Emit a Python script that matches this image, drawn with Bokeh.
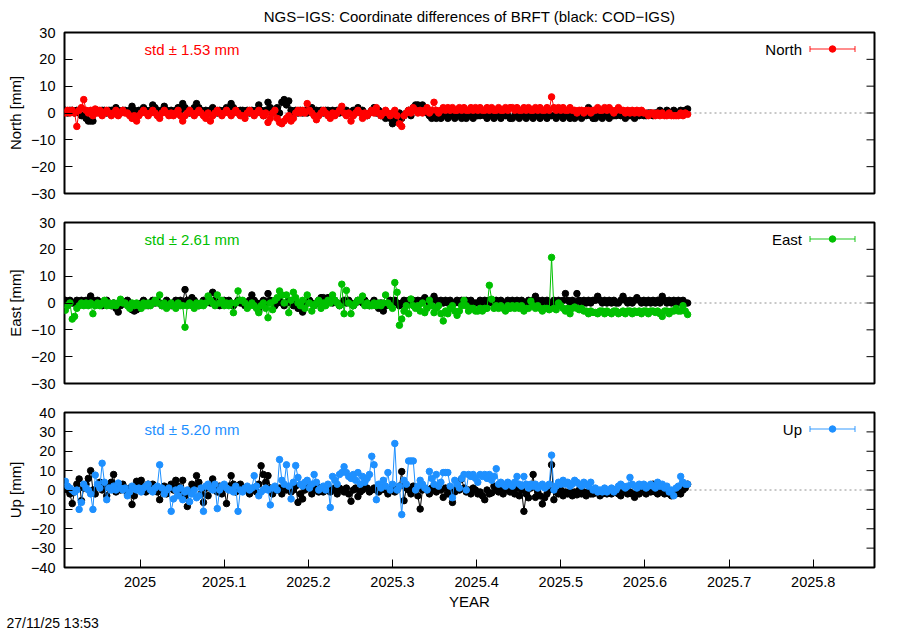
import pandas as pd
from bokeh.plotting import figure
from bokeh.layouts import column
from bokeh.models import Range1d, FixedTicker, Label, Span, Title
from bokeh.embed import file_html
from bokeh.resources import INLINE

# ---------------- data ----------------
START_DATE = "2024-11-29"   # first daily solution

north_cod = [
    1, 0, 1, 1, 0, 1, 0, -1, -1, -2,
    -3, -3, -3, 0, 1, 0, 1, 1, 0, 1,
    1, 0, 2, 1, 0, 1, 1, 0, 1, 2.5, 1,
    0, 1, 1, 2, 1, 0, 1, 3, 2, 1,
    0, 1, 2.5, 1, 0, 1, 0, 1, 2, 1,
    3.5, 2, 1, 0, 1, 2, 3.5, 2, 1, 0,
    1, 0, 1, 2, 1, 0, 1, 0, 1, 2,
    1, 3.5, 2, 1, 0, 1, 1, 0, 1, 0, 1,
    0, 1, 3, 1, -1, 1, 4, 2, 0, 1,
    2, 0, 4, 5, 3, 4.5, 1, 0, 1, 0,
    1, 0, 1, 0, 1, 2, 0, 1, 0, 1,
    0, 1, 1, 0, 1, 0, 1, 0, 1.5, 0,
    1, 0, 0, 1, 0, 2, 1, 1, 0, -1, 0,
    1, 2, 0, 1, -1, 0, -2, -1, -2, -4,
    -3, -1, 0, -2, -1, 0, 1, -1, 2, 3,
    3, 2, 3, 1, 0, -1, -2, -1, -2, -1,
    -2, -1, -1, -2, -1, -1, -2, -1, -1, -2,
    -1, -2, -1, -1, -2, -1, -1, -1, 0, -1, -2,
    -1, -1, -2, -1, -1, -2, -1, -1, -1, -2,
    -2, -1, -1, -2, -1, -1, -2, -1, -1, -2,
    -1, -1, -2, -1, -1, -2, -1, -1, -1, -2,
    -1, -1, -2, -1, -1, -2, -1, -2, -1, -1,
    -2, -1, -1, 2, -1, -2, -2, -1, -1, -2, -1,
    -1, -2, -1, -1, -1, 0, -1, -1, -2, -1,
    -1, -1, -2, -1, -1, 0, -1, -1, 0, 0,
    -1, 0, 0, 1, 0, 0, 1, 0, 0, 1,
    0, 0, 1, 0, 1, 1.5,
]
north_ngs = [
    0, 1, 0, 1, 0, -5, 1, 2, 5, 1,
    0, 1, -1, 1.5, 0, 1, -1, 0, 1, 0,
    -1, 0, 1, -1, 0, 1, 0, 0, -1, -2, -1,
    -3, -1, 0, 1, 0, -1, 0, 1, 0, -1,
    -2, 0, 1, 0, -1, 0, -1, 0, 1, -1,
    -3, -1, 0, 1, 0, -1, 0, 1, 0, -1,
    -2, 0, -3, -1, 0, 1, 0, -1, 0, 1,
    0, -1, 0, 1, 0, -1, -1, -2, 0, 1, 0,
    -1, 0, 1, 0, -1, 0, -3.5, -2, 0, 1,
    -2, -3.5, -4, -3, -2, -1, -3, -2, 0, 1,
    0, 1, 0, 3.5, 1, 0, -1, -2.5, -1, 0,
    1, 0, -1, -2, 0, -1, 0, 1, 2.5, 0,
    -1, 0, -3, -1, 0, 1, 0, -2, 0, -1, 0,
    1, 0, 2, 0, -1, 0, 1, 0, -1, 0,
    1, -1, -4, -5, -1, 0, 1, 0, 2, 1,
    0, 1, 0, 1, 2, 0, 1, 4, 1, 0,
    1, 2, 1, 2, 1, 2, 1, 1, 2, 1,
    2, 1, 1, 2, 1, 2, 1, 2, 1, 1, 2,
    1, 2, 1, 1, 2, 1, 1, 2, 1, 2,
    2, 1, 2, 1, 1, 2, 1, 2, 1, 1,
    2, 1, 2, 1, 1, 2, 1, 6, 2, 1,
    2, 1, 2, 1, 1, 2, 1, 1, 0, 1,
    1, 0, 1, 1, 0, 1, 1, 2, 1, 1, 2,
    1, 2, 1, 0, 1, 2, 1, 1, 0, 1,
    0, 1, 0, 1, 0, 1, 0, 0, -1, 0,
    0, -1, 0, -1, 0, -1, -1, 0, -1, -1,
    -1, -1, 0, -1, 0, -0.5,
]
east_cod = [
    1, 0, 1, 0, 0, 1, 0, 1, 0, 1,
    0, 2.6, 1, 0, 1, 0, -1, 0, 1, 0,
    -1, 0, -2, -3.4, -1, 0, 0, 1, 0, -2.5, -3,
    -2.5, -2, 0, 1, 0, -1, 0, 1, 0, 1,
    0, -1, 0, 1, 0, -1, 0, 1, 0, 1,
    0, 5, 1, 0, 2, 1, 0, -1, 0, 1,
    0, 1, 0, 4, 1, 0, -1, 0, 1, 0,
    1, 0, -1, 0, 1, 0, 0, -1, 0, 1, 3,
    1, 0, -3, 0, 1, 0, 3.5, 1, 0, -1,
    0, 1, 0, -1, 0, 1, 0, -1, 0, -2,
    -1, -3.4, -1, 0, 1, 0, -1, 0, 1, 2,
    2, 1.5, 2, 1, 0, 1, 0, -1, 0, 1,
    0, 1, 0, -1, 0, 1, 1, 0, 1, 0, -1,
    0, 1, -1, -2, 0, -3, -1, 0, 1, 0,
    1, 0, -1, 0, 1, 0, 1, 0, 1, 0,
    1, 0, 1, 2, 1, 0, 1, 2.5, 1, 0,
    1, 0, 1, 0, 1, 0, 0, 1, 0, 1,
    0, 1, 0, 1, 0, 0, 0, 1, 0, 1, 0,
    1, 0, 0, 1, 0, 1, 0, 0, 1, 0,
    1, 0, 1, 0, 1, 0, 0, 1, 0, 1,
    2.5, 1, 0, 1, 0, 1, 0, 0, 1, 0,
    1, 0, 1, 3.5, 1, 0, 1, 0, 3.5, 1,
    0, 1, 0, 1, 0, 1, 1, 2.5, 1, 0, 1,
    0, 1, 0, 1, 0, 0, 1, 2.5, 1, 0,
    1, 0, 1, 2, 1, 0, 1, 0, 1, 0,
    1, 0, 1, 0, 2.5, 1, 0, 1, 0, 1,
    0, 1, 0, 1, 0, 0,
]
east_ngs = [
    -2.7, -1, 0, -6, -5, -2, -1, 0, -1, 0,
    -1, 0, -4, -1, 0, -1, 0, 1, -1, 0,
    -1, 0, -1, 0, 1.4, 0, 0, -1, -2, 0, -1,
    0, -1, -2, 0, -1, 0, -1, 0, 1, 0,
    3, -1, 0, -2, -1, 0, -1, -2, 0, -1,
    -1, -9, -1, 0, -1, -2, 0, -1, 0, -1,
    0, 2.6, 1, 0, -1, 3, 0, 1, -1, 0,
    -1, 0, -3.6, 0, 4.5, 1, 1, 0, -2, -1, 0,
    -1, -2, -3.6, -1, 0, -2, -5.5, 0, -2.5, 1,
    2, 4.5, 3, 0, 3, -3.6, 1, 4, 2, 0,
    -1, 1, -2, 3, 0, -3, -1, 0, 1, -2,
    0, -1, 1, 0, 3, 1, 0, -1, 7, -4,
    4.7, 0, -4, -1, 0, 1, 1, 2.6, -1, 0, -1,
    -1, 0, -1, 0, -1, 0, 3, 0, -1, -2,
    7.6, 4, -8.3, -6, -3, -1, -4, 1.5, -1, -2,
    -1, -3, 0, -3.6, -2, 1, -1, -3.6, -2, -1,
    -4, -6.7, -3, -4, -2, -1, -3, -4.6, -3, -1,
    1, -1, -3, -2, -2, -3, -3, -2, -3, -2, -2,
    6.6, 1.4, -2, -1, -2, -1, -2, -3, -1, -2,
    -1, -2, -1, -2, -1, -3, -2, -2, 0.7, -1,
    -2, -1, -2, -3, -2, -2, -2.5, 17, -2, -2.5,
    0, -1, -2, -3, -2, -4, -2, -1.5, -2, -2.5,
    -2, -3, -3, -4, -3, -3.5, -3.5, -4, -3, -3, -4,
    -3, -3.5, -4, -3, -3, -4, -3.5, -3, -4, -3,
    -3, -4, -3, -3.5, -3, -4, -3, -3, -4, -3,
    -3, -3.5, -3, -4, -5, -3, -3, -4, -3, -3,
    -2, -3, -3, -1, -3, -4.3,
]
up_cod = [
    2, 0, -2, -7, -1, 3, 5.7, -5.5, 1, 3,
    6, 10, 0, -2, 2, 4, 0, 1, -3, 2,
    4, 8, -1, 2, 0, 3, 1, -2, 1, -7.5, -3,
    4.5, 4, 5, 2, -1, 3, 0, 3, 1, -1,
    -5, 0, 2, -2, 1, 3, 0, 5, 2, -1,
    5, -3, -8.5, 0, 3, 2, 7.4, 4, -2, -6.4,
    1, -3, 2, 5.7, 0, -1, 2, -2, 1, -7,
    2, 7.4, 3, -1, 2, 3, 1, 0, 1, -2, 0,
    1, -1, 3, 12.5, 8, 4, 7.4, 1, -2, 0,
    0, 1, -2, 2, 0, 1, -1, 0, 2, -6.4,
    -2, -4.6, 0, 1, 1.5, -2, 0, 2, -1, 1,
    -1, 0, 2, -1, 0, 1, -2, 1, 0, -1,
    1, -2, -5.8, 0, 1, -3.4, -1, 0, 2, 1, -1,
    0, 1, 0, -1, 0, 1, 0, -2, 0, 1,
    -1, 0, 2, 9.5, -5.5, 1, 0, -2, 2, 0,
    -3, -9.8, 0, 1, 0, -2, 1, 0, -1, 2,
    0, -3.8, 1, -2, 0, -6.4, -1, 1, 0, 5.7,
    1, -1, 0, -2, 1, 0, -2, -1, -3, -5, 0,
    -2, -1.5, 2, 0, -1, 1, -2, 0, 1, -1,
    0, -2, 1, -3, 0, -11, -2, -4, 1, 8,
    -3.8, -1, -3, -7.2, -4, -2, 0, 13, -5, -1,
    -2, 0, -3, -1, -2, -1, -3, -1, -2.5, 0,
    -2, -1, -3, -1, -2, -2, -1, -1, -3, -2, -1,
    -2, -1, -2, 0, -1, -2, -3, -1, 0, -2,
    -1, -2, -3.8, -1, -2, 0, -1, -2, 1, -1,
    3, -1, -2, 0, -1, -2, -1, -2, -3, -1,
    -2, -1, -2, 0, 1, 3,
]
up_ngs = [
    4.5, 2, 1, 0, -1, 0, -10, -6.4, 3, 1,
    0, -2, -10, 7.7, 3, 1, 13.8, 4, -5, 1,
    0, 2, 0, 3.6, 1, 0, 1, -3, -1, 2, 1,
    0, 1, -1, 1, 2, 3, 0, -1, 1, 2,
    13, 1, -2, 0, 1, -11, -4.6, 0, -3, 1,
    -5, -1, 0, -6, -2, 0, -4, -3, 1, -11,
    2, 3, 1, 0, 3, -9.6, 0, 2, 3, 1,
    0, 0, -1, 2, -11, 0, -1, 1, 2, 0, 1,
    7.4, 2, -3, -1, 0, 1, 0, -7.7, 1, 2,
    0, 15.7, 5, 3, 13, 2, -4.6, 4, 12.6, 6.5,
    3, 2, 4, 5, 1, 3, 8, 4, 0, 1,
    2, 0, 3, -9, 7, 5, 3, 8, 9, 12,
    9, 7, 6, 8, 5, 9, 3, 7, 4, 6, 8,
    17.4, 13, -5, 3, 1, 5, 2, 9, 0, 3,
    24, 0, 2, -12.7, 5, 3, 15, 15, 15, 0,
    2, 5, 3, 1, 0, 9.6, 6, 3, 8, 2,
    4, 9, 9, 9, 2, -4, 5, 3, 1, 6,
    8, 0, 8, 7, 8, 6, 4, 8, 7, 8, 6,
    8, 5, 7, 11, 3, 4, 3, 2, 4, 3,
    2, 4, 7, 3, 2, 7, 3, 1, 3, 2,
    3, 1, 2, 3, 1, 2, 3, 18, 0, 2,
    4, 3, 5, 3, 4, 2, 3, 5, 4, 3,
    2, 4, 3, 2, 4, 0, 1, -1, 0, -1, 1,
    -1, 0, 1, -1, 0, 2, 3, 2, 1, 2,
    6.5, 3, 2, 1, 3, 2, 3, 1, 2, 3,
    2, 1, 4, 2, 3, 1, 2, -1, 0, -3,
    1, 2, 7, 4, 3, 3,
]

components = ["North", "East", "Up"]
std_values = ["1.53", "2.61", "5.20"]
colors = ["#ff0000", "#00c000", "#1e90ff"]
y_limits = [(-30, 30), (-30, 30), (-40, 40)]
y_ticks = [[-30, -20, -10, 0, 10, 20, 30],
           [-30, -20, -10, 0, 10, 20, 30],
           [-40, -30, -20, -10, 0, 10, 20, 30, 40]]
x_ticks = [2025.0, 2025.1, 2025.2, 2025.3, 2025.4, 2025.5, 2025.6, 2025.7, 2025.8]
x_tick_labels = ["2025", "2025.1", "2025.2", "2025.3", "2025.4", "2025.5",
                 "2025.6", "2025.7", "2025.8"]
X_RANGE = (2024.9102, 2025.8728)

TITLE = "NGS\u2212IGS: Coordinate differences of BRFT (black: COD\u2212IGS)"
STAMP = "27/11/25 13:53"

# ---------------- time axis ----------------
dates = pd.date_range(START_DATE, periods=len(north_cod), freq="D")
ndays = [366 if d.is_leap_year else 365 for d in dates]
t = [d.year + (d.dayofyear - 0.5) / n for d, n in zip(dates, ndays)]

FONT = "Liberation Sans"
W = 892
FRAME_W = 810

# (height, top border, frame height, bottom border)
geom = [(208, 32, 161, 15), (190, 14, 161, 15), (232, 14, 155, 63)]
series = [(north_cod, north_ngs), (east_cod, east_ngs), (up_cod, up_ngs)]


def minus(v):
    return ("%g" % v).replace("-", "\u2212")


figs = []
for i, comp in enumerate(components):
    h, bt, fh, bb = geom[i]
    ylo, yhi = y_limits[i]
    p = figure(width=W, height=h, x_range=Range1d(*X_RANGE), y_range=Range1d(ylo, yhi),
               output_backend="svg", toolbar_location=None,
               min_border_left=64, min_border_right=18,
               min_border_top=bt, min_border_bottom=bb)
    p.outline_line_color = "black"
    p.outline_line_width = 2
    p.outline_line_alpha = 1.0
    p.grid.visible = False
    p.background_fill_color = "white"
    p.border_fill_color = "white"

    upp = (yhi - ylo) / fh            # data units per pixel (y)
    upx = (X_RANGE[1] - X_RANGE[0]) / FRAME_W   # data units per pixel (x)

    yax = p.yaxis[0]
    yax.ticker = FixedTicker(ticks=y_ticks[i])
    yax.major_label_overrides = {v: minus(v) for v in y_ticks[i]}
    yax.major_tick_in = 8
    yax.major_tick_out = 0
    yax.minor_tick_in = 0
    yax.minor_tick_out = 0
    yax.axis_line_color = None
    yax.major_tick_line_color = "black"
    yax.major_label_text_font = FONT
    yax.major_label_text_font_size = "14.5px"
    yax.major_label_text_color = "black"
    yax.major_label_standoff = 9
    yax.axis_label = comp + " [mm]"
    yax.axis_label_text_font = FONT
    yax.axis_label_text_font_size = "15px"
    yax.axis_label_text_font_style = "normal"
    yax.axis_label_text_color = "black"
    yax.axis_label_standoff = 4

    # mirrored tick marks on the right frame edge
    p.segment(x0=[X_RANGE[1] - 8 * upx] * len(y_ticks[i]), y0=y_ticks[i],
              x1=[X_RANGE[1]] * len(y_ticks[i]), y1=y_ticks[i],
              line_color="black", line_width=1)

    xax = p.xaxis[0]
    if i < 2:
        xax.visible = False
    else:
        xax.ticker = FixedTicker(ticks=x_ticks)
        xax.major_label_overrides = dict(zip(x_ticks, x_tick_labels))
        xax.major_tick_in = 8
        xax.major_tick_out = 0
        xax.minor_tick_in = 0
        xax.minor_tick_out = 0
        xax.axis_line_color = None
        xax.major_tick_line_color = "black"
        xax.major_label_text_font = FONT
        xax.major_label_text_font_size = "14.5px"
        xax.major_label_text_color = "black"
        xax.major_label_standoff = 9
        xax.axis_label = "YEAR"
        xax.axis_label_text_font = FONT
        xax.axis_label_text_font_size = "15px"
        xax.axis_label_text_font_style = "normal"
        xax.axis_label_text_color = "black"
        xax.axis_label_standoff = 3

    # zero line
    p.add_layout(Span(location=0, dimension="width", line_color="#909090",
                      line_width=1, line_dash="2 3", level="underlay"))

    cod, ngs = series[i]
    col = colors[i]
    p.line(t, cod, line_color="black", line_width=1)
    p.scatter(t, cod, marker="circle", size=6.5, fill_color="black", line_color="black")
    p.line(t, ngs, line_color=col, line_width=1)
    p.scatter(t, ngs, marker="circle", size=6.5, fill_color=col, line_color=col)

    y_key = yhi - 16.5 * upp

    p.add_layout(Label(x=X_RANGE[0] + 80 * upx, y=y_key,
                       text="std \u00b1 " + std_values[i] + " mm",
                       text_color=col, text_font=FONT, text_font_size="15px",
                       text_baseline="middle", text_align="left"))

    # key: text then error-bar style sample
    kx0 = X_RANGE[0] + 745.5 * upx
    kx1 = X_RANGE[0] + 790.5 * upx
    kxm = (kx0 + kx1) / 2
    cap = 3 * upp
    p.add_layout(Label(x=X_RANGE[0] + 737.5 * upx, y=y_key, text=comp,
                       text_color="black", text_font=FONT, text_font_size="15px",
                       text_baseline="middle", text_align="right"))
    p.segment(x0=[kx0, kx0, kx1], y0=[y_key, y_key - cap, y_key - cap],
              x1=[kx1, kx0, kx1], y1=[y_key, y_key + cap, y_key + cap],
              line_color=col, line_alpha=0.6, line_width=1.5)
    p.scatter([kxm], [y_key], marker="circle", size=6.5, fill_color=col, line_color=col)

    if i == 0:
        p.add_layout(Title(text=TITLE, align="center", vertical_align="top",
                           text_font=FONT, text_font_size="15px",
                           text_font_style="normal", text_color="black",
                           standoff=12), "above")
    if i == 2:
        p.add_layout(Title(text=STAMP, align="left", offset=-58, text_font=FONT,
                           text_font_size="14px", text_font_style="normal",
                           text_color="black", standoff=0), "below")
    figs.append(p)

layout = column(*figs, spacing=0)
open("out.html", "w").write(file_html(layout, INLINE))
